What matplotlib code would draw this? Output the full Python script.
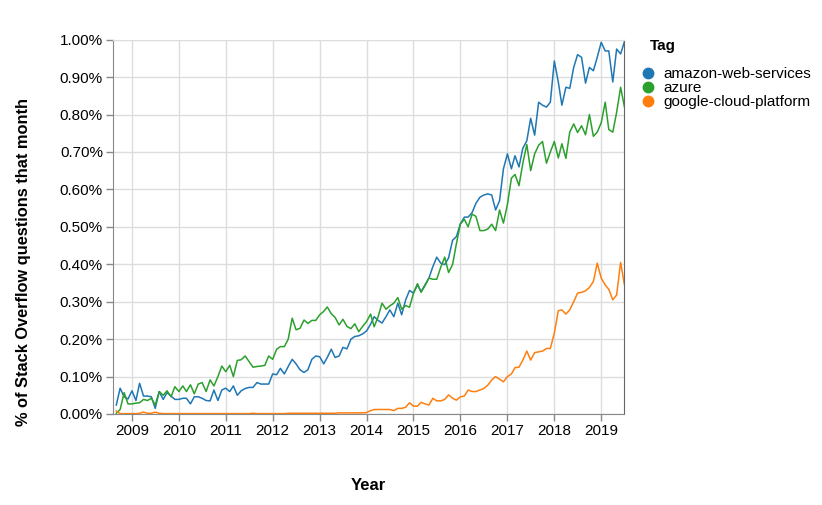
import numpy as np
import pandas as pd
import matplotlib
matplotlib.use("Agg")
import matplotlib.pyplot as plt
from matplotlib.lines import Line2D
from matplotlib.ticker import FuncFormatter

plt.rcParams['font.family'] = ['Liberation Sans', 'DejaVu Sans']

# monthly share of Stack Overflow questions (%), Sep 2008 .. Jul 2019
months = pd.date_range('2008-09-01', '2019-07-01', freq='MS')

aws = [
    0.024, 0.069, 0.046, 0.040,
    0.062, 0.036, 0.082, 0.048, 0.048, 0.046, 0.015, 0.060, 0.039, 0.057, 0.048, 0.039,
    0.039, 0.042, 0.042, 0.027, 0.046, 0.046, 0.042, 0.036, 0.035, 0.064, 0.036, 0.064,
    0.069, 0.060, 0.075, 0.050, 0.062, 0.068, 0.071, 0.071, 0.084, 0.080, 0.080, 0.080,
    0.107, 0.105, 0.122, 0.107, 0.127, 0.146, 0.134, 0.118, 0.111, 0.118, 0.146, 0.155,
    0.153, 0.134, 0.151, 0.173, 0.151, 0.155, 0.178, 0.174, 0.200, 0.207, 0.209, 0.214,
    0.222, 0.240, 0.260, 0.250, 0.243, 0.260, 0.278, 0.260, 0.296, 0.265, 0.305, 0.330,
    0.323, 0.345, 0.327, 0.345, 0.363, 0.394, 0.419, 0.403, 0.399, 0.417, 0.464, 0.474,
    0.508, 0.526, 0.526, 0.538, 0.563, 0.579, 0.585, 0.588, 0.585, 0.545, 0.570, 0.655,
    0.695, 0.655, 0.690, 0.660, 0.710, 0.730, 0.790, 0.745, 0.833, 0.825, 0.820, 0.833,
    0.943, 0.887, 0.825, 0.873, 0.870, 0.926, 0.960, 0.953, 0.884, 0.926, 0.917, 0.953,
    0.993, 0.970, 0.970, 0.887, 0.975, 0.962, 0.995,
]

azure = [
    0.002, 0.012, 0.057, 0.027,
    0.027, 0.029, 0.030, 0.039, 0.036, 0.042, 0.024, 0.060, 0.050, 0.062, 0.046, 0.073,
    0.060, 0.075, 0.060, 0.078, 0.054, 0.080, 0.084, 0.060, 0.091, 0.075, 0.100, 0.128,
    0.113, 0.130, 0.100, 0.143, 0.145, 0.155, 0.140, 0.125, 0.127, 0.128, 0.130, 0.155,
    0.146, 0.173, 0.180, 0.180, 0.200, 0.256, 0.225, 0.229, 0.251, 0.242, 0.250, 0.250,
    0.265, 0.274, 0.286, 0.268, 0.258, 0.238, 0.253, 0.234, 0.228, 0.241, 0.220, 0.234,
    0.247, 0.267, 0.233, 0.260, 0.296, 0.280, 0.289, 0.296, 0.311, 0.280, 0.290, 0.285,
    0.323, 0.348, 0.325, 0.343, 0.363, 0.360, 0.360, 0.392, 0.419, 0.378, 0.399, 0.455,
    0.508, 0.520, 0.500, 0.534, 0.528, 0.490, 0.490, 0.494, 0.507, 0.490, 0.545, 0.510,
    0.560, 0.630, 0.640, 0.610, 0.670, 0.720, 0.650, 0.695, 0.718, 0.728, 0.670, 0.700,
    0.728, 0.684, 0.722, 0.683, 0.753, 0.775, 0.752, 0.770, 0.746, 0.800, 0.742, 0.753,
    0.778, 0.833, 0.760, 0.753, 0.806, 0.873, 0.820,
]

gcp = [
    0.008, 0.001, 0.001, 0.001,
    0.001, 0.001, 0.002, 0.005, 0.002, 0.002, 0.005, 0.002, 0.001, 0.001, 0.001, 0.001,
    0.001, 0.001, 0.001, 0.001, 0.001, 0.001, 0.001, 0.001, 0.001, 0.001, 0.001, 0.001,
    0.001, 0.001, 0.001, 0.001, 0.001, 0.001, 0.001, 0.002, 0.001, 0.001, 0.001, 0.001,
    0.001, 0.001, 0.001, 0.001, 0.002, 0.002, 0.002, 0.002, 0.002, 0.002, 0.002, 0.002,
    0.002, 0.002, 0.002, 0.002, 0.002, 0.003, 0.003, 0.003, 0.003, 0.003, 0.003, 0.003,
    0.004, 0.009, 0.012, 0.012, 0.012, 0.012, 0.012, 0.009, 0.015, 0.015, 0.018, 0.030,
    0.021, 0.021, 0.031, 0.027, 0.024, 0.042, 0.035, 0.035, 0.039, 0.051, 0.042, 0.037,
    0.046, 0.048, 0.064, 0.060, 0.060, 0.064, 0.068, 0.077, 0.091, 0.100, 0.093, 0.086,
    0.100, 0.107, 0.124, 0.125, 0.144, 0.168, 0.144, 0.164, 0.166, 0.168, 0.175, 0.175,
    0.216, 0.276, 0.278, 0.267, 0.278, 0.300, 0.323, 0.325, 0.329, 0.338, 0.354, 0.403,
    0.363, 0.345, 0.333, 0.305, 0.318, 0.405, 0.345,
]

tags = ['amazon-web-services', 'azure', 'google-cloud-platform']
colors = ['#1f77b4', '#2ca02c', '#ff7f0e']
year_ticks = pd.date_range('2009-01-01', '2019-01-01', freq='YS')
y_ticks = np.arange(0, 1.01, 0.1)

fig = plt.figure(figsize=(8.22, 5.05), dpi=100)
ax = fig.add_axes([0.1371, 0.1802, 0.6226, 0.7412])

for vals, c in zip([aws, azure, gcp], colors):
    ax.plot(months, vals, color=c, lw=1.1)

ax.set_xlim(pd.Timestamp('2008-08-04'), pd.Timestamp('2019-07-01'))
ax.set_ylim(0, 1.0)
ax.set_xticks(year_ticks)
ax.set_xticklabels([str(d.year) for d in year_ticks])
ax.set_yticks(y_ticks)
ax.yaxis.set_major_formatter(FuncFormatter(lambda v, p: f'{v:.2f}%'))

ax.grid(True, color='#dddddd', lw=1)
ax.set_axisbelow(True)
ax.tick_params(axis='both', direction='out', length=5, width=1, color='#888888',
               labelsize=11, pad=2)
for s in ['left', 'bottom']:
    ax.spines[s].set_color('#888888')
ax.spines['top'].set_color('#dddddd')
ax.spines['right'].set_color('#666666')

ax.set_xlabel('Year', fontsize=12, fontweight='bold', va='center')
ax.xaxis.set_label_coords(0.499, -0.19)
ax.set_ylabel('% of Stack Overflow questions that month', fontsize=11.8,
              fontweight='bold', va='center')
ax.yaxis.set_label_coords(-0.174, 0.406)

# legend: title placed as text, entries as a legend box
fig.text(650 / 822, 1 - 46 / 505, 'Tag', fontsize=11, fontweight='bold', va='center')
handles = [Line2D([], [], marker='o', ls='', color=c, markersize=7.5) for c in colors]
ax.legend(handles, tags, loc='upper left',
          bbox_to_anchor=(640 / 822, 1 - 67 / 505), bbox_transform=fig.transFigure,
          frameon=False, fontsize=11, handletextpad=0.55, labelspacing=0.0,
          handlelength=1.0, borderaxespad=0, borderpad=0)

fig.savefig('out.png', dpi=100)
